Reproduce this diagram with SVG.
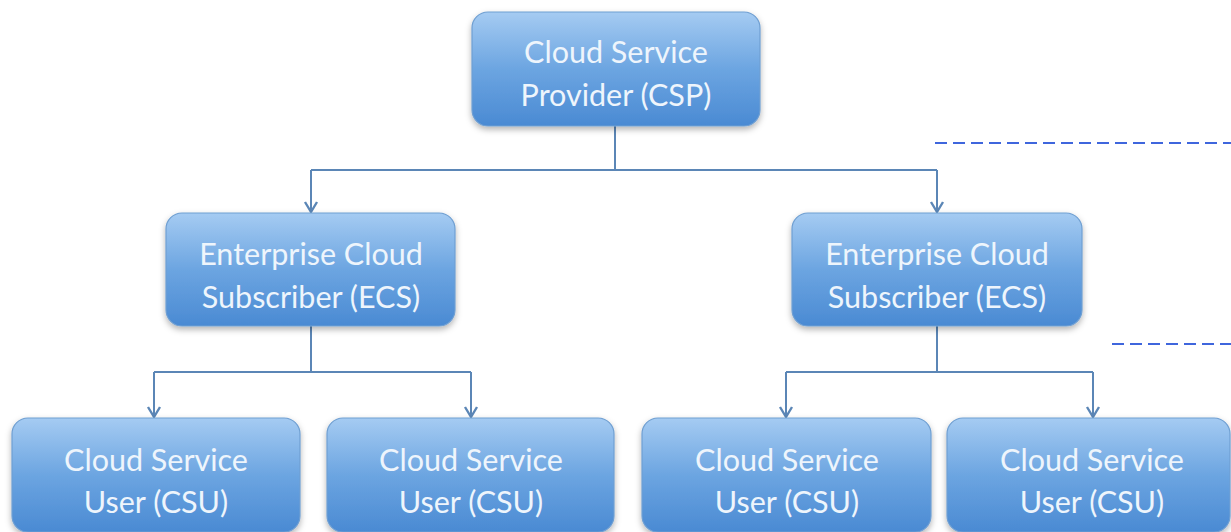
<svg xmlns="http://www.w3.org/2000/svg" width="1231" height="532" viewBox="0 0 1231 532">
  <style>
    .box { fill: url(#boxFill); stroke: #6f9fd2; stroke-width: 1.2; filter: url(#shadow); }
    .label { font-family: Lato, "Open Sans", sans-serif; font-size: 30.5px; fill: #eef5fc; text-anchor: middle; }
    .link { fill: none; stroke: #5b86b6; stroke-width: 2; marker-end: url(#arrow); }
    .trunk { fill: none; stroke: #5b86b6; stroke-width: 2; }
    .dash { stroke: #3f66dd; stroke-width: 2.2; stroke-dasharray: 12 6; }
  </style>
  <defs>
    <linearGradient id="boxFill" x1="0" y1="0" x2="0" y2="1">
      <stop offset="0" stop-color="#a5cbf2"/>
      <stop offset="0.5" stop-color="#6ca5e1"/>
      <stop offset="1" stop-color="#4a8ad3"/>
    </linearGradient>
    <filter id="shadow" x="-10%" y="-10%" width="120%" height="130%">
      <feDropShadow dx="0" dy="3" stdDeviation="3" flood-color="#000" flood-opacity="0.3"/>
    </filter>
    <!-- open V arrowhead, drawn pointing along +x -->
    <marker id="arrow" viewBox="0 0 16 16" refX="13" refY="8" markerWidth="16" markerHeight="16" markerUnits="userSpaceOnUse" orient="auto">
      <path d="M3,2 L13,8 L3,14" fill="none" stroke="#5b86b6" stroke-width="2.4"/>
    </marker>
  </defs>

  <rect width="1231" height="532" fill="#ffffff"/>

  <!-- dashed guide lines on the right -->
  <g id="guides">
    <line class="dash" x1="935" y1="143" x2="1231" y2="143"/>
    <line class="dash" x1="1112" y1="344" x2="1231" y2="344"/>
  </g>

  <!-- connectors -->
  <g id="connectors">
    <path class="trunk" d="M615,126 V170 M311,170 H937"/>
    <path class="link" d="M311,170 V212"/>
    <path class="link" d="M937,170 V212"/>
    <path class="trunk" d="M311,326 V372 M154,372 H471"/>
    <path class="link" d="M154,372 V417"/>
    <path class="link" d="M471,372 V417"/>
    <path class="trunk" d="M937,326 V372 M786,372 H1093"/>
    <path class="link" d="M786,372 V417"/>
    <path class="link" d="M1093,372 V417"/>
  </g>

  <g id="csp">
    <rect class="box" x="472" y="12" width="288" height="114" rx="16"/>
    <text class="label" x="616" y="63">Cloud Service</text>
    <text class="label" x="616" y="106">Provider (CSP)</text>
  </g>

  <g id="ecs-left">
    <rect class="box" x="166" y="213" width="289" height="113" rx="16"/>
    <text class="label" x="311" y="265">Enterprise Cloud</text>
    <text class="label" x="311" y="308">Subscriber (ECS)</text>
  </g>

  <g id="ecs-right">
    <rect class="box" x="792" y="213" width="290" height="113" rx="16"/>
    <text class="label" x="937" y="265">Enterprise Cloud</text>
    <text class="label" x="937" y="308">Subscriber (ECS)</text>
  </g>

  <g id="csu-1">
    <rect class="box" x="12" y="418" width="288" height="114" rx="16"/>
    <text class="label" x="156" y="471">Cloud Service</text>
    <text class="label" x="156" y="513">User (CSU)</text>
  </g>

  <g id="csu-2">
    <rect class="box" x="327" y="418" width="287" height="114" rx="16"/>
    <text class="label" x="471" y="471">Cloud Service</text>
    <text class="label" x="471" y="513">User (CSU)</text>
  </g>

  <g id="csu-3">
    <rect class="box" x="642" y="418" width="289" height="114" rx="16"/>
    <text class="label" x="787" y="471">Cloud Service</text>
    <text class="label" x="787" y="513">User (CSU)</text>
  </g>

  <g id="csu-4">
    <rect class="box" x="947" y="418" width="283" height="114" rx="16"/>
    <text class="label" x="1092" y="471">Cloud Service</text>
    <text class="label" x="1092" y="513">User (CSU)</text>
  </g>
</svg>
